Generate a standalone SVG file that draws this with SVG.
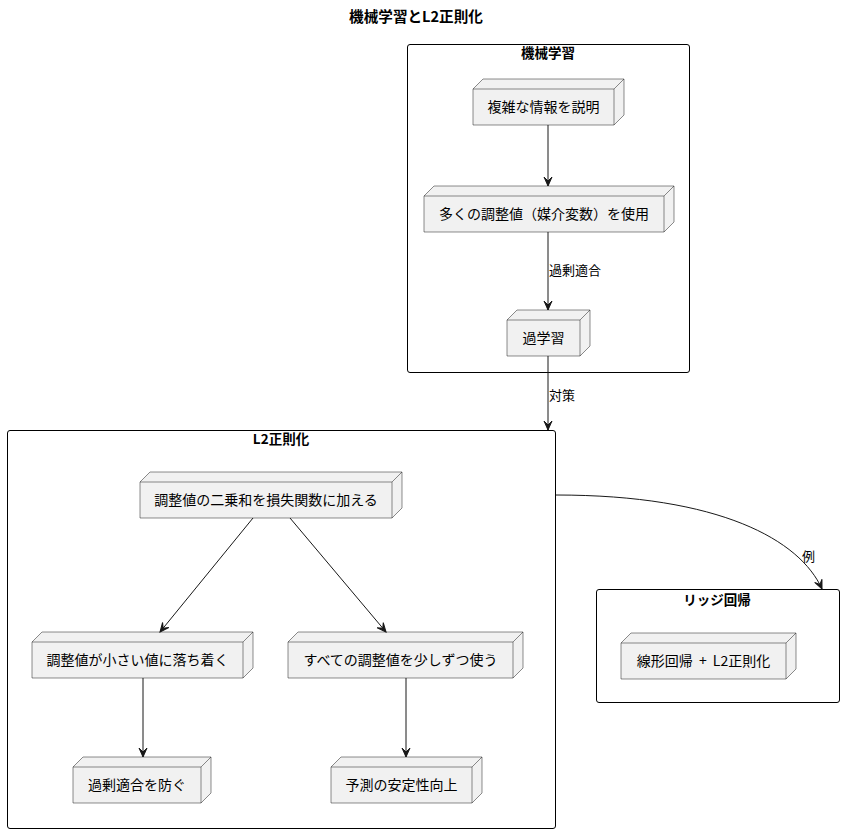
<svg xmlns="http://www.w3.org/2000/svg" width="844" height="833" viewBox="0 0 844 833">
<style>
text{font-family:"Noto Sans CJK JP","Noto Sans",sans-serif;fill:#000}
.t{font-size:13.5px;font-weight:bold;text-anchor:middle}
.n{font-size:14px;text-anchor:middle}
.l{font-size:13px}
.cl{fill:none;stroke:#000;stroke-width:1}
.box{fill:#F1F1F1;stroke:#181818;stroke-width:0.5}
.ed{fill:none;stroke:#181818;stroke-width:0.5}
.c{fill:none;stroke:#181818;stroke-width:1;marker-end:url(#ah)}
</style>
<defs>
<marker id="ah" markerUnits="userSpaceOnUse" markerWidth="12" markerHeight="12" viewBox="-10 -6 12 12" refX="0" refY="0" orient="auto">
<path d="M0,0 L-9,-4 L-5,0 L-9,4 Z" fill="#181818" stroke="#181818" stroke-width="1"/>
</marker>
</defs>
<rect width="844" height="833" fill="#fff"/>
<text class="t" x="416" y="22" style="font-size:14.6px">機械学習とL2正則化</text>

<g id="cluster-ml">
<rect class="cl" x="407.5" y="44.5" width="282" height="328" rx="2.5"/>
<text class="t" x="548" y="58">機械学習</text>
</g>
<g id="cluster-l2">
<rect class="cl" x="7.5" y="430.5" width="548" height="398" rx="2.5"/>
<text class="t" x="281" y="444">L2正則化</text>
</g>
<g id="cluster-ridge">
<rect class="cl" x="596.5" y="589.5" width="243" height="113" rx="2.5"/>
<text class="t" x="717" y="605">リッジ回帰</text>
</g>

<g id="n1">
<path class="box" d="M473,89 L483,79 L624,79 L624,115 L614,125 L473,125 Z"/>
<path class="ed" d="M473,89 L614,89 L624,79 M614,89 L614,125"/>
<text class="n" x="543.5" y="112">複雑な情報を説明</text>
</g>
<g id="n2">
<path class="box" d="M424,196 L434,186 L674,186 L674,222 L664,232 L424,232 Z"/>
<path class="ed" d="M424,196 L664,196 L674,186 M664,196 L664,232"/>
<text class="n" x="544" y="219">多くの調整値（媒介変数）を使用</text>
</g>
<g id="n3">
<path class="box" d="M507,320 L517,310 L590,310 L590,346 L580,356 L507,356 Z"/>
<path class="ed" d="M507,320 L580,320 L590,310 M580,320 L580,356"/>
<text class="n" x="543.5" y="343">過学習</text>
</g>
<g id="nA">
<path class="box" d="M140,482 L150,472 L402,472 L402,508 L392,518 L140,518 Z"/>
<path class="ed" d="M140,482 L392,482 L402,472 M392,482 L392,518"/>
<text class="n" x="266" y="505">調整値の二乗和を損失関数に加える</text>
</g>
<g id="nB">
<path class="box" d="M32,642 L42,632 L253,632 L253,668 L243,678 L32,678 Z"/>
<path class="ed" d="M32,642 L243,642 L253,632 M243,642 L243,678"/>
<text class="n" x="137.5" y="665">調整値が小さい値に落ち着く</text>
</g>
<g id="nC">
<path class="box" d="M288,642 L298,632 L523,632 L523,668 L513,678 L288,678 Z"/>
<path class="ed" d="M288,642 L513,642 L523,632 M513,642 L513,678"/>
<text class="n" x="400.5" y="665">すべての調整値を少しずつ使う</text>
</g>
<g id="nD">
<path class="box" d="M73,767 L83,757 L211,757 L211,793 L201,803 L73,803 Z"/>
<path class="ed" d="M73,767 L201,767 L211,757 M201,767 L201,803"/>
<text class="n" x="137" y="790">過剰適合を防ぐ</text>
</g>
<g id="nE">
<path class="box" d="M331,767 L341,757 L482,757 L482,793 L472,803 L331,803 Z"/>
<path class="ed" d="M331,767 L472,767 L482,757 M472,767 L472,803"/>
<text class="n" x="401.5" y="790">予測の安定性向上</text>
</g>
<g id="nR">
<path class="box" d="M621,643 L631,633 L796,633 L796,669 L786,679 L621,679 Z"/>
<path class="ed" d="M621,643 L786,643 L796,633 M786,643 L786,679"/>
<text class="n" x="703.5" y="666">線形回帰<tspan dx="3"> + </tspan><tspan dx="3">L2正則化</tspan></text>
</g>

<g id="connectors">
<path class="c" d="M548,125 L548,186"/>
<path class="c" d="M548,232 L548,310"/>
<text class="l" x="549" y="275">過剰適合</text>
<path class="c" d="M548,356 L548,430"/>
<text class="l" x="549" y="400">対策</text>
<path class="c" d="M253,518 L160,632"/>
<path class="c" d="M290,518 L386,632"/>
<path class="c" d="M143,678 L143,757"/>
<path class="c" d="M406,678 L406,757"/>
<path class="c" d="M556,495 C720,495 800,540 822,589"/>
<text class="l" x="802" y="561">例</text>
</g>
</svg>
